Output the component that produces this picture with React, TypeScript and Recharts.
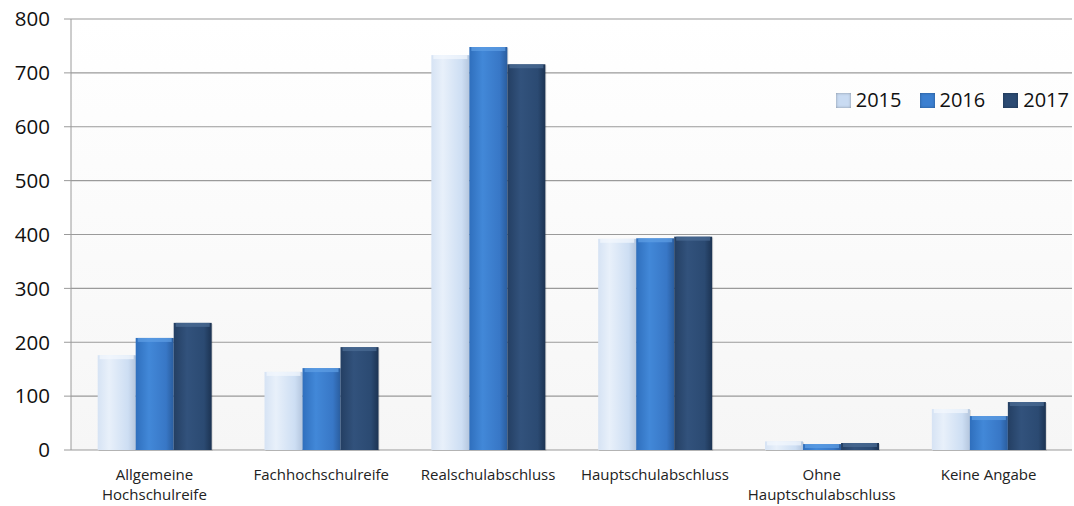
import { BarChart, Bar, XAxis, YAxis, CartesianGrid } from "recharts";

const categories = [
  "Allgemeine\nHochschulreife",
  "Fachhochschulreife",
  "Realschulabschluss",
  "Hauptschulabschluss",
  "Ohne\nHauptschulabschluss",
  "Keine Angabe",
];
const v2015 = [176, 145, 733, 392, 16, 76];
const v2016 = [208, 152, 748, 393, 11, 63];
const v2017 = [236, 191, 716, 396, 13, 89];
const yTicks = [0, 100, 200, 300, 400, 500, 600, 700, 800];
const boundaryTicks = [0, 1, 2, 3, 4, 5, 6];

const series = [
  { key: "y2015", name: "2015", grad: "g2015", top: "#f4f8fd", swatch: "#c9dbf2" },
  { key: "y2016", name: "2016", grad: "g2016", top: "#5fa0e6", swatch: "#3b7fd0" },
  { key: "y2017", name: "2017", grad: "g2017", top: "#4d6d96", swatch: "#2b4a72" },
];

const data = categories.map((c, i) => ({
  cat: c,
  idx: i + 0.5,
  y2015: v2015[i],
  y2016: v2016[i],
  y2017: v2017[i],
}));

const FONT = "'Open Sans', 'Liberation Sans', sans-serif";

const bevelShape = (grad: string, top: string) => (props: any) => {
  const { x, y, width, height } = props;
  if (!height || height <= 0) return <g />;
  const cap = Math.min(4, height);
  return (
    <g>
      <rect x={x + 1} y={y + 1} width={width} height={height} fill="#000" opacity={0.12} />
      <rect x={x} y={y} width={width} height={height} fill={`url(#${grad})`} />
      <rect x={x + 2} y={y} width={width - 4} height={cap} fill={top} opacity={0.7} />
    </g>
  );
};

const CatTick = (props: any) => {
  const { x, y, payload } = props;
  const lines = String(payload.value).split("\n");
  return (
    <text x={x} y={y + 22} textAnchor="middle" fill="#222" fontSize={15} fontFamily={FONT}>
      {lines.map((l, i) => (
        <tspan key={i} x={x} dy={i === 0 ? 0 : 20}>
          {l}
        </tspan>
      ))}
    </text>
  );
};

// legend sits over the plot, outside recharts' layout so it doesn't shrink the chart
const ChartLegend = () => (
  <div
    style={{
      position: "absolute",
      top: 87,
      right: 5,
      display: "flex",
      gap: 18,
      fontFamily: FONT,
      fontSize: 20,
      color: "#111",
      lineHeight: "26px",
    }}
  >
    {series.map((s) => (
      <div key={s.key} style={{ display: "flex", alignItems: "center", gap: 5 }}>
        <div
          style={{
            width: 15,
            height: 15,
            background: s.swatch,
            boxShadow: "inset 0 0 3px rgba(0,0,0,0.35)",
          }}
        />
        <span>{s.name}</span>
      </div>
    ))}
  </div>
);

export default function App() {
  return (
    <div style={{ position: "absolute", left: 0, top: 0, width: 1074, height: 506, background: "#fff" }}>
      <BarChart
        width={1074}
        height={506}
        data={data}
        margin={{ top: 19, right: 2, left: 0, bottom: 0 }}
        barCategoryGap="16%"
        barGap={0}
      >
        <defs>
          <linearGradient id="plotBg" x1="0" y1="0" x2="0" y2="1">
            <stop offset="0" stopColor="#ffffff" />
            <stop offset="1" stopColor="#f6f6f6" />
          </linearGradient>
          <linearGradient id="g2015" x1="0" y1="0" x2="1" y2="0">
            <stop offset="0" stopColor="#d6e3f4" />
            <stop offset="0.3" stopColor="#e8f0fa" />
            <stop offset="0.8" stopColor="#cddef3" />
            <stop offset="1" stopColor="#b4c6de" />
          </linearGradient>
          <linearGradient id="g2016" x1="0" y1="0" x2="1" y2="0">
            <stop offset="0" stopColor="#2f6fbd" />
            <stop offset="0.35" stopColor="#4288d8" />
            <stop offset="0.8" stopColor="#3877c6" />
            <stop offset="1" stopColor="#2a5d9e" />
          </linearGradient>
          <linearGradient id="g2017" x1="0" y1="0" x2="1" y2="0">
            <stop offset="0" stopColor="#243f63" />
            <stop offset="0.35" stopColor="#32527c" />
            <stop offset="0.8" stopColor="#2b4a72" />
            <stop offset="1" stopColor="#1c3352" />
          </linearGradient>
        </defs>
        <CartesianGrid vertical={false} stroke="#9a9a9a" strokeWidth={1.2} fill="url(#plotBg)" />
        <XAxis
          dataKey="cat"
          xAxisId="cat"
          axisLine={false}
          tickLine={false}
          tick={<CatTick />}
          interval={0}
          height={56}
        />
        <XAxis
          xAxisId="edges"
          type="number"
          dataKey="idx"
          domain={[0, 6]}
          ticks={boundaryTicks}
          tick={false}
          tickSize={7}
          stroke="#9a9a9a"
          height={0}
        />
        <YAxis
          domain={[0, 800]}
          ticks={yTicks}
          interval={0}
          width={71}
          stroke="#9a9a9a"
          tickSize={7}
          tickMargin={14}
          tick={{ fill: "#111", fontSize: 20.5, fontFamily: FONT }}
        />
        {series.map((s) => (
          <Bar
            key={s.key}
            xAxisId="cat"
            dataKey={s.key}
            name={s.name}
            fill={s.swatch}
            shape={bevelShape(s.grad, s.top)}
            isAnimationActive={false}
          />
        ))}
      </BarChart>
      <ChartLegend />
    </div>
  );
}
